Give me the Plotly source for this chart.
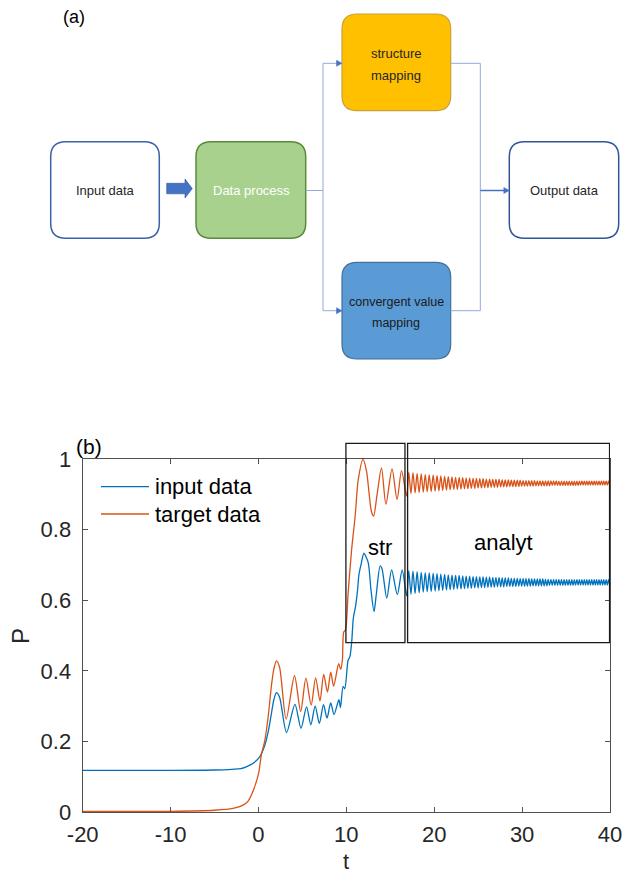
import plotly.graph_objects as go

W, H = 624, 876

# ---------------- data ----------------
# early part (rise + first oscillations), input data
t_in_early = [-20, -15, -10, -5, -3, -2, -1.4, -0.6, 0.16, 0.73, 1.1, 1.5, 1.75, 2.05,
              2.4, 3.2, 4.15, 4.84, 5.47, 5.96, 6.45, 6.93, 7.4, 7.8, 8.22, 8.6, 9.15, 9.33,
              9.63, 9.82, 10.2, 10.4, 10.6, 10.8, 11.05, 11.28, 11.43, 11.66, 12.0, 12.2,
              12.5, 12.8, 13.15, 13.4, 13.85, 14.05, 14.6, 15.15, 15.8, 16.35, 16.86]
p_in_early = [0.118, 0.118, 0.118, 0.119, 0.121, 0.123, 0.128, 0.138, 0.157, 0.19, 0.226, 0.283, 0.318, 0.338,
              0.325, 0.225, 0.305, 0.237, 0.298, 0.247, 0.300, 0.251, 0.304, 0.266, 0.309, 0.276, 0.318, 0.296,
              0.356, 0.349, 0.43, 0.44, 0.479, 0.55, 0.583, 0.63, 0.672, 0.70, 0.733, 0.725,
              0.705, 0.63, 0.568, 0.615, 0.697, 0.69, 0.606, 0.686, 0.616, 0.686, 0.612]

# early part, target data
t_tg_early = [-20, -15, -10, -5, -2.9, -1.7, -1.2, -0.6, 0.0, 0.35, 0.73, 1.1, 1.5, 1.75, 2.05,
              2.4, 3.15, 4.1, 4.8, 5.4, 6.0, 6.5, 7.0, 7.42, 7.85, 8.22, 8.55, 9.13, 9.35,
              9.55, 9.7, 9.9, 10.2, 10.6, 11.0, 11.36, 11.9, 12.3, 12.6, 12.85, 13.1,
              13.5, 14.0, 14.5, 15.2, 15.77, 16.28, 16.86]
p_tg_early = [0.002, 0.002, 0.002, 0.005, 0.01, 0.02, 0.03, 0.06, 0.108, 0.165, 0.203, 0.269, 0.363, 0.405, 0.428,
              0.41, 0.263, 0.386, 0.285, 0.379, 0.303, 0.38, 0.315, 0.39, 0.34, 0.396, 0.357, 0.42, 0.404,
              0.431, 0.51, 0.516, 0.62, 0.743, 0.838, 0.942, 0.999, 0.965, 0.90, 0.852, 0.838,
              0.90, 0.975, 0.872, 0.972, 0.885, 0.967, 0.895]

# late part: times of the alternating peaks / troughs (shared by both series)
t_late = [17.10, 17.35, 17.58, 17.82, 18.05, 18.28, 18.52, 18.75, 18.98, 19.20,
          19.43, 19.65, 19.88, 20.10, 20.32, 20.53, 20.75, 20.96, 21.18, 21.39,
          21.60, 21.81, 22.02, 22.22, 22.43, 22.63, 22.84, 23.04, 23.24, 23.44,
          23.64, 23.83, 24.03, 24.22, 24.42, 24.61, 24.80, 24.99, 25.18, 25.37,
          25.56, 25.74, 25.93, 26.11, 26.30, 26.48, 26.66, 26.84, 27.02, 27.20,
          27.38, 27.56, 27.73, 27.91, 28.08, 28.26, 28.43, 28.60, 28.77, 28.94,
          29.11, 29.28, 29.45, 29.62, 29.78, 29.95, 30.11, 30.28, 30.44, 30.60,
          30.77, 30.93, 31.09, 31.25, 31.41, 31.57, 31.73, 31.88, 32.04, 32.20,
          32.35, 32.51, 32.66, 32.82, 32.97, 33.12, 33.28, 33.43, 33.58, 33.73,
          33.88, 34.03, 34.18, 34.33, 34.48, 34.63, 34.78, 34.92, 35.07, 35.22,
          35.36, 35.51, 35.65, 35.80, 35.94, 36.08, 36.23, 36.37, 36.51, 36.65,
          36.80, 36.94, 37.08, 37.22, 37.36, 37.50, 37.64, 37.78, 37.92, 38.06,
          38.20, 38.33, 38.47, 38.61, 38.75, 38.88, 39.02, 39.16, 39.29, 39.43,
          39.56, 39.70, 39.83, 39.97]

tg_peaks = [0.963, 0.961, 0.959, 0.958, 0.956, 0.955, 0.954, 0.953, 0.952, 0.951,
            0.950, 0.949, 0.948, 0.948, 0.947, 0.946, 0.946, 0.945, 0.945, 0.944,
            0.944, 0.943, 0.943, 0.942, 0.942, 0.942, 0.941, 0.941, 0.941, 0.940,
            0.940, 0.940, 0.940, 0.939, 0.939, 0.939, 0.939, 0.939, 0.938, 0.938,
            0.938, 0.938, 0.938, 0.938, 0.938, 0.938, 0.937, 0.937, 0.937, 0.937,
            0.937, 0.937, 0.937, 0.937, 0.937, 0.937, 0.937, 0.937, 0.937, 0.937,
            0.937, 0.937, 0.937, 0.937, 0.937, 0.937, 0.937]
tg_troughs = [0.902, 0.904, 0.905, 0.906, 0.907, 0.908, 0.909, 0.910, 0.911, 0.912,
              0.913, 0.914, 0.914, 0.915, 0.916, 0.916, 0.917, 0.917, 0.918, 0.918,
              0.919, 0.919, 0.920, 0.920, 0.920, 0.921, 0.921, 0.921, 0.922, 0.922,
              0.922, 0.922, 0.923, 0.923, 0.923, 0.923, 0.923, 0.924, 0.924, 0.924,
              0.924, 0.924, 0.924, 0.925, 0.925, 0.925, 0.925, 0.925, 0.925, 0.925,
              0.925, 0.925, 0.925, 0.925, 0.926, 0.926, 0.926, 0.926, 0.926, 0.926,
              0.926, 0.926, 0.926, 0.926, 0.926, 0.926, 0.926]
in_peaks = [0.684, 0.682, 0.681, 0.679, 0.678, 0.677, 0.676, 0.675, 0.674, 0.673,
            0.672, 0.671, 0.670, 0.670, 0.669, 0.668, 0.668, 0.667, 0.667, 0.666,
            0.666, 0.665, 0.665, 0.664, 0.664, 0.664, 0.663, 0.663, 0.663, 0.662,
            0.662, 0.662, 0.661, 0.661, 0.661, 0.661, 0.660, 0.660, 0.660, 0.660,
            0.660, 0.659, 0.659, 0.659, 0.659, 0.659, 0.659, 0.659, 0.658, 0.658,
            0.658, 0.658, 0.658, 0.658, 0.658, 0.658, 0.658, 0.658, 0.658, 0.658,
            0.658, 0.658, 0.658, 0.658, 0.658, 0.658, 0.658]
in_troughs = [0.617, 0.619, 0.621, 0.623, 0.624, 0.625, 0.626, 0.627, 0.628, 0.629,
              0.630, 0.631, 0.632, 0.632, 0.633, 0.634, 0.634, 0.635, 0.635, 0.636,
              0.636, 0.637, 0.637, 0.637, 0.638, 0.638, 0.638, 0.639, 0.639, 0.639,
              0.639, 0.640, 0.640, 0.640, 0.640, 0.640, 0.641, 0.641, 0.641, 0.641,
              0.641, 0.641, 0.642, 0.642, 0.642, 0.642, 0.642, 0.642, 0.642, 0.642,
              0.642, 0.642, 0.643, 0.643, 0.643, 0.643, 0.643, 0.643, 0.643, 0.643,
              0.643, 0.643, 0.643, 0.643, 0.643, 0.643, 0.643]

x_ticks = [-20, -10, 0, 10, 20, 30, 40]
x_ticktext = ["-20", "-10", "0", "10", "20", "30", "40"]
y_ticks = [0, 0.2, 0.4, 0.6, 0.8, 1]
y_ticktext = ["0", "0.2", "0.4", "0.6", "0.8", "1"]

series_names = ["input data", "target data"]
series_colors = ["#0072BD", "#D95319"]

# ---------------- assemble series ----------------
def interleave(peaks, troughs):
    out = []
    for a, b in zip(peaks, troughs):
        out += [a, b]
    return out

t_input = t_in_early + t_late
p_input = p_in_early + interleave(in_peaks, in_troughs)[:len(t_late)]
t_target = t_tg_early + t_late
p_target = p_tg_early + interleave(tg_peaks, tg_troughs)[:len(t_late)]

# ---------------- figure ----------------
def px(x):
    return x / W


def py(y):
    return 1 - y / H


X0, X1 = 82.7, 610.0   # plot area pixel extents (panel b)
Y0, Y1 = 459.0, 812.0

fig = go.Figure()
for t, p, name, col in [(t_input, p_input, series_names[0], series_colors[0]),
                        (t_target, p_target, series_names[1], series_colors[1])]:
    fig.add_trace(go.Scatter(x=t, y=p, mode="lines", name=name, showlegend=False,
                             line=dict(color=col, width=1.3, shape="spline", smoothing=0.8)))

axis_col = "rgb(80,80,80)"
tick_font = dict(family="Liberation Sans, Arial, sans-serif", size=22, color="#262626")
fig.update_layout(
    width=W, height=H, margin=dict(l=0, r=0, t=0, b=0, autoexpand=False),
    paper_bgcolor="white", plot_bgcolor="white",
    xaxis=dict(domain=[px(X0), px(X1)], range=[-20, 40], tickvals=x_ticks, ticktext=x_ticktext,
               ticks="inside", ticklen=5, tickcolor=axis_col, showline=True, linecolor=axis_col,
               linewidth=1.2, mirror="ticks", showgrid=False, zeroline=False, automargin=False,
               tickfont=tick_font, ticklabelstandoff=2),
    yaxis=dict(domain=[py(Y1), py(Y0)], range=[0, 1], tickvals=y_ticks, ticktext=y_ticktext,
               ticks="inside", ticklen=5, tickcolor=axis_col, showline=True, linecolor=axis_col,
               linewidth=1.2, mirror="ticks", showgrid=False, zeroline=False, automargin=False,
               tickfont=tick_font, ticklabelstandoff=6),
)

shapes = []
annotations = []

# boxes "str" and "analyt"
for x0, x1 in [(9.95, 16.67), (16.97, 39.95)]:
    shapes.append(dict(type="rect", xref="x", yref="y domain", x0=x0, x1=x1, y0=0.48, y1=1.044,
                       line=dict(color="#1a1a1a", width=1.3), fillcolor="rgba(0,0,0,0)"))
annotations.append(dict(x=13.82, y=0.75, xref="x", yref="y", text="str", showarrow=False,
                        xanchor="center", yanchor="middle",
                        font=dict(family="Liberation Sans, Arial", size=22, color="black")))
annotations.append(dict(x=27.85, y=0.764, xref="x", yref="y", text="analyt", showarrow=False,
                        xanchor="center", yanchor="middle",
                        font=dict(family="Liberation Sans, Arial", size=22, color="black")))
annotations.append(dict(x=px(89), y=py(446), xref="paper", yref="paper", text="(b)", showarrow=False,
                        xanchor="center", yanchor="middle",
                        font=dict(family="Liberation Sans, Arial", size=21, color="black")))
annotations.append(dict(x=px((X0 + X1) / 2), y=py(861), xref="paper", yref="paper", text="t",
                        showarrow=False, xanchor="center", yanchor="middle", borderpad=0,
                        font=dict(family="Liberation Sans, Arial", size=22, color="#262626")))
annotations.append(dict(x=px(20), y=py(636), xref="paper", yref="paper", text="P", textangle=-90,
                        showarrow=False, xanchor="center", yanchor="middle",
                        font=dict(family="Liberation Sans, Arial", size=24, color="#262626")))

# manual legend
for i, (name, col) in enumerate(zip(series_names, series_colors)):
    yy = 486.7 + i * 27.3
    shapes.append(dict(type="line", xref="paper", yref="paper", x0=px(101), x1=px(149), y0=py(yy), y1=py(yy),
                       line=dict(color=col, width=1.3)))
    annotations.append(dict(x=px(153), y=py(yy), xref="paper", yref="paper", text=name, showarrow=False,
                            xanchor="left", yanchor="middle",
                            font=dict(family="Liberation Sans, Arial", size=22, color="black")))

# ---------------- panel (a): flowchart ----------------
def rrect(x0, y0, x1, y1, r):
    return (f"M{px(x0 + r)},{py(y0)} L{px(x1 - r)},{py(y0)} Q{px(x1)},{py(y0)} {px(x1)},{py(y0 + r)} "
            f"L{px(x1)},{py(y1 - r)} Q{px(x1)},{py(y1)} {px(x1 - r)},{py(y1)} "
            f"L{px(x0 + r)},{py(y1)} Q{px(x0)},{py(y1)} {px(x0)},{py(y1 - r)} "
            f"L{px(x0)},{py(y0 + r)} Q{px(x0)},{py(y0)} {px(x0 + r)},{py(y0)} Z")


boxes = [
    ((50.7, 141.7, 159.3, 238.3), "white", "#3A62A8", 1.5),
    ((196.0, 141.7, 305.7, 238.3), "#A9D18E", "#5A8A3A", 1.5),
    ((342.0, 14.0, 450.7, 110.7), "#FFC000", "#C8A03A", 1.2),
    ((342.0, 262.3, 450.7, 359.0), "#5B9BD5", "#41719C", 1.2),
    ((509.3, 141.7, 618.7, 238.3), "white", "#2F5597", 1.5),
]
for (a, b, c, d), fill, lc, lw in boxes:
    shapes.append(dict(type="path", xref="paper", yref="paper", path=rrect(a, b, c, d, 15),
                       fillcolor=fill, line=dict(color=lc, width=lw)))

# block arrow
pts = [(166.7, 183.3), (185.0, 183.3), (185.0, 179.0), (192.3, 188.6), (185.0, 198.0),
       (185.0, 193.8), (166.7, 193.8)]
path = "M" + " L".join(f"{px(x)},{py(y)}" for x, y in pts) + " Z"
shapes.append(dict(type="path", xref="paper", yref="paper", path=path, fillcolor="#4472C4",
                   line=dict(color="#2F5597", width=0.6)))

conn_col = "#8FAADC"
segs = [((305.7, 190.5), (323.0, 190.5)), ((323.0, 63.3), (323.0, 310.7)),
        ((323.0, 63.3), (338.0, 63.3)), ((323.0, 310.7), (338.0, 310.7)),
        ((450.7, 63.3), (480.3, 63.3)), ((480.3, 63.3), (480.3, 310.7)),
        ((450.7, 310.7), (480.3, 310.7))]
for (xa, ya), (xb, yb) in segs:
    shapes.append(dict(type="line", xref="paper", yref="paper", x0=px(xa), y0=py(ya), x1=px(xb), y1=py(yb),
                       line=dict(color=conn_col, width=1)))
shapes.append(dict(type="line", xref="paper", yref="paper", x0=px(480.3), y0=py(190.5), x1=px(505.0),
                   y1=py(190.5), line=dict(color="#4472C4", width=1.5)))
# arrowheads
for xt, yt in [(342.0, 63.3), (342.0, 310.7), (509.3, 190.5)]:
    hp = f"M{px(xt)},{py(yt)} L{px(xt - 5.5)},{py(yt - 3)} L{px(xt - 5.5)},{py(yt + 3)} Z"
    shapes.append(dict(type="path", xref="paper", yref="paper", path=hp, fillcolor="#4472C4",
                       line=dict(color="#4472C4", width=0.5)))

ffont = "Liberation Sans, Arial, sans-serif"
texts = [
    ("(a)", 74, 17, 18, "black"),
    ("Input data", 105, 191, 13, "#262626"),
    ("Data process", 251, 191, 13, "white"),
    ("structure", 396.3, 53.3, 13, "#262626"),
    ("mapping", 396.3, 75.0, 13, "#262626"),
    ("convergent value", 396.3, 301.7, 12.5, "#1a1a1a"),
    ("mapping", 396.3, 322.7, 12.5, "#1a1a1a"),
    ("Output data", 564.3, 191, 13, "#262626"),
]
for txt, x, y, s, c in texts:
    annotations.append(dict(x=px(x), y=py(y), xref="paper", yref="paper", text=txt, showarrow=False,
                            xanchor="center", yanchor="middle", font=dict(family=ffont, size=s, color=c)))

fig.update_layout(shapes=shapes, annotations=annotations)
fig.write_html("out.html")
